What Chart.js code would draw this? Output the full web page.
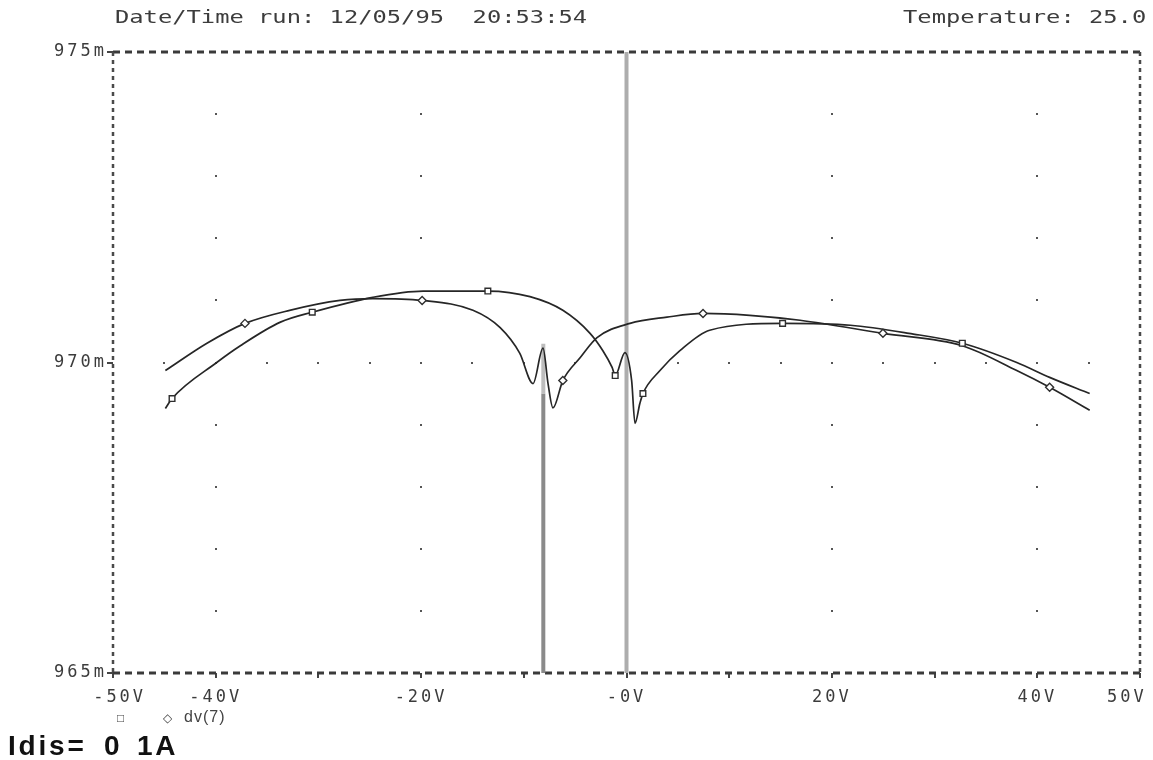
<!DOCTYPE html>
<html>
<head>
<meta charset="utf-8">
<script src="https://cdn.jsdelivr.net/npm/chart.js@4.4.0/dist/chart.umd.min.js"></script>
<style>
    html, body { margin: 0; padding: 0; background: #fff; }
    #wrap { position: relative; width: 1153px; height: 760px; overflow: hidden; }
    #wrap canvas { position: absolute; left: 0; top: 0; }
    .mono { position: absolute; font-family: "DejaVu Sans Mono", monospace; font-size: 18px;
            color: #3c3c3c; white-space: pre; line-height: 20px; transform: scaleX(1.32); }
    .leg { position: absolute; font-family: "Liberation Sans", Arial, sans-serif; font-size: 16px;
           color: #444; white-space: pre; line-height: 18px; letter-spacing: 1px; }
    .big { position: absolute; font-family: "Liberation Sans", Arial, sans-serif; font-weight: bold;
           font-size: 28px; letter-spacing: 2.8px; color: #111; white-space: pre; line-height: 30px; }
</style>
</head>
<body>
<div id="wrap">
    <canvas id="plot" width="1153" height="760"></canvas>
    <div class="mono" style="left:115px; top:7px; transform-origin:left top;">Date/Time run: 12/05/95  20:53:54</div>
    <div class="mono" style="right:7px; top:7px; transform-origin:right top;">Temperature: 25.0</div>
    <div class="leg" style="left:117px; top:709px; font-size:12px;">□</div>
    <div class="leg" style="left:163px; top:709px; font-size:12px;">◇</div>
    <div class="leg" style="left:184px; top:708px;">dv(7)</div>
    <div class="big" style="left:8px; top:731px;">Idis=</div>
    <div class="big" style="left:104px; top:731px;">0</div>
    <div class="big" style="left:137px; top:731px;">1A</div>
</div>
<script>
// curve with the notch at 0V (square markers)
const voltsSq = [-44.9, -44.25, -39.9, -37.6, -33.7, -30.6, -24.7, -19.8, -13.5, -9.4, -6.2, -3.55,
    -2.3, -1.4, -1.1, -0.15, 0.5, 0.83, 1.3, 1.6, 3.26, 5.2, 8.1, 15.2, 21.8, 27.5, 32.7, 38.0, 41.2, 45.1];
const dvSq = [969.26, 969.42, 970.0, 970.27, 970.65, 970.81, 971.05, 971.15, 971.15, 971.06, 970.84, 970.47,
    970.19, 969.92, 969.79, 970.16, 969.71, 969.02, 969.34, 969.5, 969.87, 970.19, 970.52, 970.63, 970.60,
    970.47, 970.31, 970.0, 969.76, 969.5];

// curve with the notch at -8V (diamond markers)
const voltsDia = [-44.9, -40.85, -37.15, -32.8, -27.9, -24.7, -19.9, -14.95, -12.3, -10.4, -9.1, -8.13,
    -7.64, -7.16, -6.2, -4.5, -2.87, 0.34, 3.94, 7.45, 12.0, 16.9, 24.97, 32.7, 38.0, 41.2, 45.1];
const dvDia = [969.87, 970.31, 970.63, 970.84, 971.0, 971.03, 971.0, 970.84, 970.56, 970.15, 969.66, 970.23,
    969.66, 969.27, 969.71, 970.08, 970.40, 970.63, 970.73, 970.79, 970.76, 970.68, 970.47, 970.27,
    969.87, 969.60, 969.23];

// marker positions
const sqMarkV = [-44.25, -30.6, -13.5, -1.1, 1.6, 15.2, 32.7];
const sqMarkDv = [969.42, 970.81, 971.15, 969.79, 969.5, 970.63, 970.31];
const diaMarkV = [-37.15, -19.9, -6.2, 7.45, 24.97, 41.2];
const diaMarkDv = [970.63, 971.0, 969.71, 970.79, 970.47, 969.60];

// cursors
const cursorA = [0, 975, 965];
const cursorB = [-8.1, 970.3, 969.5, 965];

const xTickVals = [-50, -40, -20, 0, 20, 40, 50];
const xTickText = ['-50V', '-40V', '-20V', '-0V', '20V', '40V', '50V'];
const yTickVals = [965, 970, 975];
const yTickText = ['965m', '970m', '975m'];

const pts = (xs, ys) => xs.map((x, i) => ({ x: x, y: ys[i] }));

const plotterPlugin = {
    id: 'plotter',
    beforeDraw(chart) {
        chart.ctx.letterSpacing = '3px';
    },
    beforeDatasetsDraw(chart) {
        const ctx = chart.ctx;
        const a = chart.chartArea;
        const xs = chart.scales.x, ys = chart.scales.y;
        ctx.save();
        // dotted grid
        ctx.fillStyle = '#555';
        for (let m = 966; m <= 974; m++) {
            if (m === 970) continue;
            for (let v = -40; v <= 40; v += 20) {
                ctx.fillRect(Math.round(xs.getPixelForValue(v)) - 1, Math.round(ys.getPixelForValue(m)) - 1, 2, 2);
            }
        }
        for (let v = -45; v <= 45; v += 5) {
            ctx.fillRect(Math.round(xs.getPixelForValue(v)) - 1, Math.round(ys.getPixelForValue(970)) - 1, 2, 2);
        }
        // dashed frame
        ctx.strokeStyle = '#3a3a3a';
        ctx.lineWidth = 3;
        ctx.setLineDash([7, 5]);
        ctx.beginPath();
        ctx.moveTo(a.left, a.top); ctx.lineTo(a.right, a.top);
        ctx.moveTo(a.left, a.bottom); ctx.lineTo(a.right, a.bottom);
        ctx.stroke();
        ctx.lineWidth = 2.5;
        ctx.strokeStyle = '#4a4a4a';
        ctx.setLineDash([4, 4]);
        ctx.beginPath();
        ctx.moveTo(a.left, a.top); ctx.lineTo(a.left, a.bottom);
        ctx.moveTo(a.right, a.top); ctx.lineTo(a.right, a.bottom);
        ctx.stroke();
        ctx.restore();
    }
};

new Chart(document.getElementById('plot'), {
    type: 'line',
    data: {
        datasets: [
            {
                data: pts(sqMarkV, sqMarkDv),
                showLine: false,
                pointStyle: 'rect',
                pointRadius: 4,
                borderColor: '#2e2e2e',
                backgroundColor: '#fff',
                borderWidth: 1.4,
            },
            {
                data: pts(diaMarkV, diaMarkDv),
                showLine: false,
                pointStyle: 'rectRot',
                pointRadius: 4,
                borderColor: '#2e2e2e',
                backgroundColor: '#fff',
                borderWidth: 1.4,
            },
            {
                data: pts(voltsSq, dvSq),
                borderColor: '#262626',
                borderWidth: 1.7,
                pointRadius: 0,
                cubicInterpolationMode: 'monotone',
            },
            {
                data: pts(voltsDia, dvDia),
                borderColor: '#262626',
                borderWidth: 1.7,
                pointRadius: 0,
                cubicInterpolationMode: 'monotone',
            },
            {
                data: [{ x: cursorA[0], y: cursorA[1] }, { x: cursorA[0], y: cursorA[2] }],
                borderColor: '#adadad',
                borderWidth: 4,
                pointRadius: 0,
            },
            {
                data: [{ x: cursorB[0], y: cursorB[1] }, { x: cursorB[0], y: cursorB[2] }],
                borderColor: '#bdbdbd',
                borderWidth: 4,
                pointRadius: 0,
            },
            {
                data: [{ x: cursorB[0], y: cursorB[2] }, { x: cursorB[0], y: cursorB[3] }],
                borderColor: '#8a8a8a',
                borderWidth: 4,
                pointRadius: 0,
            },
        ],
    },
    options: {
        responsive: false,
        animation: false,
        devicePixelRatio: 1,
        layout: { padding: { top: 52, right: 13, left: 0, bottom: 0 } },
        plugins: {
            legend: { display: false },
            tooltip: { enabled: false },
            title: { display: false },
        },
        scales: {
            x: {
                type: 'linear',
                min: -50,
                max: 50,
                afterBuildTicks: (axis) => {
                    const t = [];
                    for (let v = -50; v <= 50; v += 10) t.push({ value: v });
                    axis.ticks = t;
                },
                afterFit: (axis) => {
                    axis.height = 87;
                    axis.paddingLeft = 0;
                    axis.paddingRight = 0;
                },
                border: { display: false },
                grid: { drawOnChartArea: false, tickLength: 5, color: '#444', lineWidth: 2 },
                ticks: {
                    autoSkip: false,
                    maxRotation: 0,
                    padding: 9,
                    color: '#3c3c3c',
                    font: { family: 'DejaVu Sans Mono', size: 17 },
                    callback: (v) => {
                        const i = xTickVals.indexOf(v);
                        if (i < 0) return '';
                        // nudge the end labels inward like the plotter does
                        if (v === 50) return xTickText[i] + '  ';
                        if (v === -50) return ' ' + xTickText[i];
                        return xTickText[i];
                    },
                },
            },
            y: {
                type: 'linear',
                min: 965,
                max: 975,
                afterBuildTicks: (axis) => {
                    axis.ticks = yTickVals.map((v) => ({ value: v }));
                },
                afterFit: (axis) => {
                    axis.width = 113;
                    axis.paddingTop = 0;
                    axis.paddingBottom = 0;
                },
                border: { display: false },
                grid: { drawOnChartArea: false, tickLength: 6, color: '#444', lineWidth: 2 },
                ticks: {
                    padding: 0,
                    color: '#3c3c3c',
                    font: { family: 'DejaVu Sans Mono', size: 17 },
                    callback: (v) => {
                        const i = yTickVals.indexOf(v);
                        return i < 0 ? '' : yTickText[i];
                    },
                },
            },
        },
    },
    plugins: [plotterPlugin],
});
</script>
</body>
</html>
